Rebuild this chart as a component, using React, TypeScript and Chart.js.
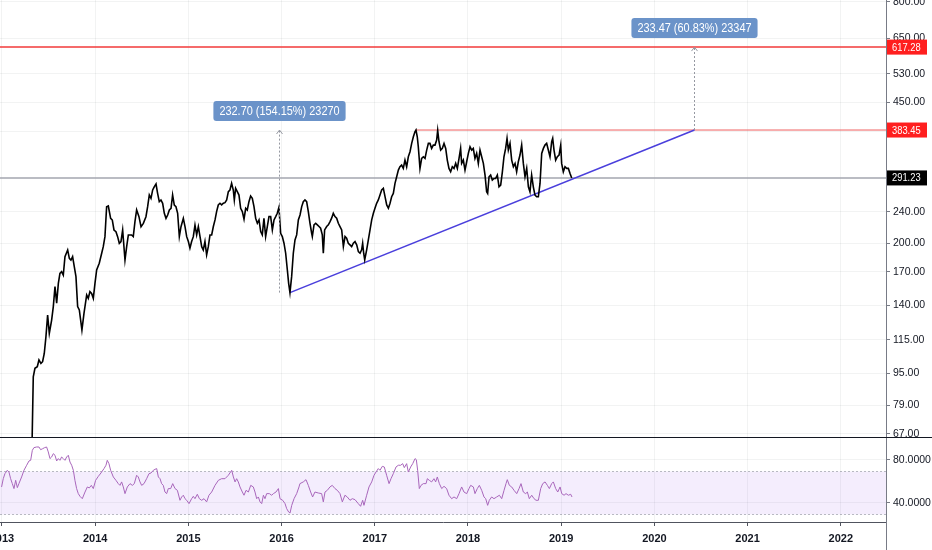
import { useEffect, useRef } from "react";
import { Chart, registerables } from "chart.js";

Chart.register(...registerables);

// weekly closes (decimal years)
const priceYears = [
  2012.96, 2013.04, 2013.11, 2013.18, 2013.25, 2013.318,
  2013.336, 2013.354, 2013.379, 2013.397, 2013.418, 2013.436, 2013.454, 2013.472, 2013.49, 2013.508,
  2013.533, 2013.551, 2013.569, 2013.587, 2013.605, 2013.622, 2013.64, 2013.658, 2013.676, 2013.705,
  2013.723, 2013.74, 2013.758, 2013.776, 2013.794, 2013.812, 2013.83, 2013.858, 2013.88, 2013.909,
  2013.926, 2013.944, 2013.962, 2013.98, 2013.998, 2014.016, 2014.044, 2014.07, 2014.087, 2014.105,
  2014.123, 2014.141, 2014.166, 2014.184, 2014.202, 2014.223, 2014.241, 2014.259, 2014.277, 2014.295,
  2014.32, 2014.338, 2014.356, 2014.391, 2014.409, 2014.427, 2014.445, 2014.47, 2014.492, 2014.517,
  2014.545, 2014.563, 2014.581, 2014.599, 2014.617, 2014.635, 2014.653, 2014.67, 2014.688, 2014.706,
  2014.724, 2014.742, 2014.76, 2014.778, 2014.796, 2014.814, 2014.831, 2014.849, 2014.867, 2014.885,
  2014.903, 2014.921, 2014.946, 2014.964, 2014.982, 2015.0, 2015.017, 2015.035, 2015.053, 2015.071,
  2015.089, 2015.107, 2015.125, 2015.143, 2015.16, 2015.178, 2015.196, 2015.214, 2015.232,
  2015.25, 2015.268, 2015.286, 2015.303, 2015.321, 2015.339, 2015.357, 2015.375, 2015.393, 2015.411,
  2015.429, 2015.446, 2015.464, 2015.482, 2015.493, 2015.507, 2015.525, 2015.543, 2015.561, 2015.579,
  2015.597, 2015.615, 2015.632, 2015.65, 2015.668, 2015.686, 2015.704, 2015.722, 2015.74, 2015.758,
  2015.776, 2015.793, 2015.811, 2015.829, 2015.847, 2015.865, 2015.883, 2015.901, 2015.919, 2015.937,
  2015.954, 2015.972, 2015.99, 2016.008, 2016.026, 2016.044, 2016.062, 2016.076, 2016.09, 2016.108,
  2016.126, 2016.144, 2016.162, 2016.18, 2016.198, 2016.216, 2016.233, 2016.251, 2016.269, 2016.287,
  2016.305, 2016.323, 2016.33, 2016.348, 2016.366, 2016.384, 2016.402, 2016.419, 2016.437, 2016.448,
  2016.462, 2016.484, 2016.502, 2016.52, 2016.537, 2016.555, 2016.573, 2016.591, 2016.609, 2016.627,
  2016.645, 2016.663, 2016.681, 2016.698, 2016.716, 2016.734, 2016.752, 2016.77, 2016.788, 2016.806,
  2016.824, 2016.842, 2016.859, 2016.87, 2016.881, 2016.892, 2016.913, 2016.931, 2016.949, 2016.967,
  2016.985, 2017.002, 2017.02, 2017.038, 2017.056, 2017.074, 2017.092, 2017.11, 2017.128, 2017.146,
  2017.163, 2017.181, 2017.199, 2017.217, 2017.235, 2017.253, 2017.27, 2017.288, 2017.306, 2017.324,
  2017.342, 2017.36, 2017.378, 2017.396, 2017.414, 2017.431, 2017.442, 2017.456, 2017.467, 2017.485,
  2017.503, 2017.521, 2017.539, 2017.557, 2017.575, 2017.592, 2017.61, 2017.628, 2017.646, 2017.664,
  2017.675, 2017.689, 2017.707, 2017.725, 2017.743, 2017.761, 2017.778, 2017.796, 2017.814, 2017.832,
  2017.85, 2017.868, 2017.886, 2017.904, 2017.921, 2017.932, 2017.95, 2017.968, 2017.986, 2018.004,
  2018.022, 2018.04, 2018.057, 2018.075, 2018.093, 2018.111, 2018.129, 2018.147, 2018.165, 2018.183,
  2018.2, 2018.211, 2018.226, 2018.243, 2018.261, 2018.279, 2018.297, 2018.315, 2018.333, 2018.351,
  2018.369, 2018.386, 2018.404, 2018.419, 2018.433, 2018.451, 2018.469, 2018.487, 2018.505, 2018.522,
  2018.54, 2018.558, 2018.576, 2018.594, 2018.612, 2018.63, 2018.648, 2018.665, 2018.683, 2018.701,
  2018.719, 2018.737, 2018.755, 2018.773, 2018.791, 2018.809, 2018.826, 2018.844, 2018.862, 2018.88,
  2018.898, 2018.909, 2018.923, 2018.941, 2018.959, 2018.977, 2018.995, 2019.005, 2019.023, 2019.041,
  2019.059, 2019.077, 2019.095, 2019.113,
];
const priceValues = [
  42, 47, 44, 49, 46, 55,
  93.0, 97.6, 98.5, 102.4, 100.4, 101.4, 106.3, 117.1, 132.6, 119.3,
  128.8, 139.1, 156.0, 141.8, 159.0, 168.4, 170.1, 166.8, 185.4, 192.6,
  183.6, 181.8, 185.4, 175.0, 165.2, 139.1, 136.5, 121.6, 133.8, 148.7,
  145.9, 151.6, 150.1, 145.9, 159.0, 171.7, 178.4, 189.0, 196.3, 207.9,
  246.9, 247.9, 230.9, 228.7, 216.0, 213.9, 207.9, 200.1, 202.1, 216.0,
  181.8, 196.3, 209.9, 209.9, 207.9, 226.5, 242.3, 233.1, 220.1, 224.4,
  233.1, 246.9, 264.1, 259.1, 271.8, 277.0, 281.2, 266.6, 254.2, 256.6,
  251.7, 237.7, 230.9, 235.4, 242.3, 244.6, 264.1, 249.3, 246.9, 237.7,
  207.9, 220.1, 230.9, 220.1, 207.9, 202.1, 194.5, 202.1, 207.9, 222.2,
  209.9, 220.1, 207.9, 196.3, 192.6, 202.1, 187.2, 196.3, 209.9,
  210.0, 220.3, 228.9, 240.1, 249.4, 251.8, 249.4, 251.8, 252.7, 256.6,
  269.1, 271.7, 282.4, 271.7, 256.6, 274.3, 269.1, 264.0, 244.7, 240.1,
  229.8, 244.7, 242.3, 254.1, 262.5, 259.0, 247.0, 231.1, 224.5, 228.9,
  214.1, 210.0, 231.1, 208.0, 220.3, 233.3, 233.3, 216.1, 228.9, 233.3,
  237.8, 246.1, 212.0, 208.0, 200.2, 189.0, 171.7, 159.0, 150.75, 165.2,
  189.0, 204.0, 210.0, 228.9, 235.5, 247.0, 254.1, 256.6, 254.1, 240.1,
  224.5, 212.0, 208.0, 222.4, 224.5, 222.4, 220.3, 218.2, 210.0, 189.0,
  216.1, 220.3, 222.4, 226.7, 231.1, 237.8, 233.3, 231.1, 224.5, 220.3,
  216.1, 196.4, 208.0, 206.0, 200.2, 198.3, 196.4, 200.2, 202.1, 198.3,
  190.8, 189.0, 192.7, 200.2, 189.0, 181.9, 192.7, 204.0, 216.1, 228.9,
  237.8, 244.7, 251.8, 256.6, 264.0, 271.7, 274.3, 261.5, 249.4, 244.7,
  251.6, 261.4, 266.4, 282.2, 293.2, 304.6, 310.5, 313.5, 307.6, 322.6,
  310.5, 328.9, 338.5, 355.1, 368.9, 379.7, 383.45, 368.9, 348.4, 307.6,
  325.8, 328.9, 325.8, 341.8, 355.1, 355.1, 345.1, 351.7, 351.7, 362.0,
  382.9, 358.5, 341.8, 345.1, 355.1, 345.1, 322.6, 307.6, 301.7, 310.5,
  307.6, 316.6, 307.6, 325.8, 345.1, 316.6, 322.6, 304.6, 319.6, 335.3,
  348.4, 341.8, 345.1, 325.8, 335.3, 316.6, 341.8, 328.9, 316.6, 296.0,
  269.0, 266.4, 293.2, 296.0, 287.6, 290.4, 290.4, 296.0, 276.8, 279.5,
  301.7, 328.9, 345.1, 365.4, 341.8, 355.1, 322.6, 310.5, 316.6, 301.7,
  319.6, 332.1, 351.7, 316.6, 293.2, 307.6, 276.8, 269.0, 296.0, 276.8,
  263.9, 261.4, 261.4, 282.2, 335.3, 345.1, 351.7, 355.1, 341.8, 328.9,
  358.5, 365.4, 341.8, 322.6, 328.9, 332.1, 351.7, 316.6, 301.7, 310.5,
  307.6, 307.6, 298.9, 291.23,
];

const rsiYears = [
  2012.996, 2013.014, 2013.032, 2013.057, 2013.075, 2013.093, 2013.111, 2013.129, 2013.147, 2013.165,
  2013.182, 2013.211, 2013.236, 2013.265, 2013.29, 2013.308, 2013.326, 2013.343, 2013.372, 2013.397,
  2013.415, 2013.436, 2013.458, 2013.479, 2013.497, 2013.515, 2013.533, 2013.551, 2013.569, 2013.587,
  2013.605, 2013.622, 2013.64, 2013.658, 2013.676, 2013.694, 2013.712, 2013.73, 2013.748, 2013.766,
  2013.783, 2013.801, 2013.819, 2013.837, 2013.862, 2013.891, 2013.916, 2013.937, 2013.959, 2013.98,
  2014.005, 2014.034, 2014.062, 2014.095, 2014.116, 2014.13, 2014.148, 2014.166, 2014.195, 2014.223,
  2014.248, 2014.266, 2014.284, 2014.302, 2014.32, 2014.345, 2014.374, 2014.399, 2014.42, 2014.445,
  2014.463, 2014.481, 2014.499, 2014.524, 2014.552, 2014.578, 2014.599, 2014.624, 2014.642, 2014.66,
  2014.678, 2014.696, 2014.713, 2014.731, 2014.749, 2014.767, 2014.785, 2014.81, 2014.832, 2014.857,
  2014.882, 2014.91, 2014.928, 2014.946, 2014.964, 2014.982, 2015.007, 2015.035, 2015.053, 2015.071,
  2015.096, 2015.118, 2015.143, 2015.168, 2015.196, 2015.221, 2015.25, 2015.286, 2015.322, 2015.357,
  2015.393, 2015.429, 2015.465, 2015.483, 2015.501, 2015.518, 2015.536, 2015.554, 2015.579, 2015.597,
  2015.619, 2015.644, 2015.669, 2015.697, 2015.715, 2015.733, 2015.751, 2015.769, 2015.787, 2015.805,
  2015.822, 2015.84, 2015.869, 2015.894, 2015.912, 2015.94, 2015.966, 2015.983, 2016.012, 2016.037,
  2016.055, 2016.076, 2016.091, 2016.109, 2016.134, 2016.162, 2016.187,
  2016.197, 2016.233, 2016.262, 2016.287, 2016.312, 2016.333, 2016.358, 2016.394, 2016.43, 2016.448,
  2016.466, 2016.491, 2016.519, 2016.544, 2016.573, 2016.598, 2016.627, 2016.652, 2016.68, 2016.705,
  2016.734, 2016.759, 2016.788, 2016.823, 2016.848, 2016.87, 2016.884, 2016.913, 2016.938, 2016.967,
  2016.992, 2017.013, 2017.038, 2017.056, 2017.081, 2017.102, 2017.127, 2017.153, 2017.174, 2017.199,
  2017.228, 2017.253, 2017.278, 2017.299, 2017.317, 2017.342, 2017.36, 2017.385, 2017.407, 2017.432,
  2017.446, 2017.46, 2017.478, 2017.496, 2017.521, 2017.55, 2017.564, 2017.585, 2017.61, 2017.635,
  2017.653, 2017.671, 2017.693, 2017.718, 2017.743, 2017.771, 2017.796, 2017.825, 2017.85, 2017.879,
  2017.904, 2017.932, 2017.957, 2017.986, 2018.011, 2018.029, 2018.058, 2018.075, 2018.1, 2018.122,
  2018.147, 2018.172, 2018.19, 2018.211, 2018.229, 2018.254, 2018.279, 2018.308, 2018.337, 2018.362,
  2018.387, 2018.408, 2018.422, 2018.444, 2018.469, 2018.494, 2018.523, 2018.548, 2018.569, 2018.594,
  2018.619, 2018.637, 2018.658, 2018.684, 2018.709, 2018.73, 2018.755, 2018.78, 2018.802, 2018.827,
  2018.852, 2018.873, 2018.898, 2018.916, 2018.941, 2018.963, 2018.988, 2019.006, 2019.031, 2019.052,
  2019.077, 2019.102, 2019.116,
];
const rsiValues = [
  54.9, 62.6, 67.3, 70.4, 68.8, 62.6, 58.0, 53.4, 61.1, 54.3,
  58.0, 64.2, 70.4, 75.1, 79.1, 79.7, 89.0, 91.5, 92.1, 92.1,
  89.6, 90.5, 91.5, 92.1, 87.5, 81.3, 82.8, 85.9, 84.4, 79.1,
  81.3, 79.7, 82.8, 81.3, 79.7, 82.8, 84.4, 78.1, 75.1, 70.4,
  61.1, 53.4, 48.7, 46.2, 44.0, 50.2, 54.9, 54.0, 56.4, 53.4,
  61.1, 64.8, 67.9, 72.0, 75.1, 79.7, 76.6, 70.4, 64.2, 61.1,
  58.0, 56.4, 59.6, 54.9, 48.7, 54.9, 58.0, 56.4, 58.0, 65.8,
  64.2, 59.6, 56.4, 58.0, 62.6, 67.3, 67.9, 70.4, 71.3, 72.0,
  64.2, 62.6, 58.0, 56.4, 50.2, 48.7, 53.4, 53.4, 58.0, 53.4,
  51.8, 42.5, 45.6, 47.2, 44.0, 42.5, 39.4, 44.0, 46.2, 44.0,
  48.1, 44.0, 42.5, 44.0, 41.0, 47.2, 50.2, 56.4, 61.1, 62.6,
  62.6, 65.8, 70.4, 64.2, 59.6, 62.6, 59.6, 54.9, 50.2, 47.2,
  51.8, 50.2, 56.4, 54.9, 50.2, 44.0, 45.6, 41.0, 39.4, 47.2,
  44.0, 48.7, 48.7, 47.2, 48.7, 50.2, 53.4, 44.0, 42.5, 39.4,
  34.7, 31.6, 30.7, 37.8, 44.0, 48.7, 54.9,
  58.0, 59.6, 61.7, 56.4, 50.2, 45.6, 50.2, 49.3, 48.7, 41.0,
  50.2, 51.8, 54.9, 56.4, 53.4, 51.8, 48.7, 41.0, 47.2, 45.6,
  42.5, 44.0, 43.1, 39.4, 36.9, 42.5, 37.8, 47.2, 54.9, 59.6,
  65.8, 68.8, 72.0, 70.4, 74.1, 73.5, 65.8, 58.0, 62.6, 67.3,
  73.5, 75.1, 75.1, 76.6, 72.9, 76.6, 68.8, 73.5, 76.6, 81.3,
  80.3, 70.4, 53.4, 56.4, 58.0, 58.0, 62.6, 61.1, 59.6, 62.6,
  59.6, 64.2, 58.0, 53.4, 55.5, 53.4, 47.2, 44.0, 45.6, 44.0,
  48.7, 54.9, 50.2, 48.7, 53.4, 56.4, 54.9, 48.7, 53.4, 56.4,
  51.8, 45.6, 44.0, 37.8, 42.5, 45.6, 44.0, 45.6, 47.2, 44.0,
  51.8, 58.0, 61.7, 56.4, 54.9, 51.8, 48.7, 53.4, 58.0, 50.2,
  48.7, 50.2, 44.0, 47.2, 44.0, 42.5, 42.5, 53.4, 58.0, 59.6,
  56.4, 53.4, 58.0, 59.6, 53.4, 50.2, 54.9, 48.7, 47.2, 48.7,
  47.2, 48.1, 45.6,
];

const yearTicks = [2013, 2014, 2015, 2016, 2017, 2018, 2019, 2020, 2021, 2022];
const priceTicks = [67, 79, 95, 115, 140, 170, 200, 240, 380, 450, 530, 650, 800];
const hiddenPriceTicks = [380];
const rsiTicks = [40, 80];
const rsiBand = [30, 70];

const lastPrice = 291.23;
const resistance = 383.45;
const target = 617.28;
const resistanceStart = 2017.442;
const trendYears = [2016.09, 2020.43];
const trendValues = [150.75, 383.45];

const measureYears = [2015.975, 2020.42];
const measureFrom = [150.75, 383.45];
const measureTo = [383.45, 617.28];
const measureTexts = ["232.70 (154.15%) 23270", "233.47 (60.83%) 23347"];

const FONT = "'Liberation Sans Narrow', 'Liberation Sans', Arial, sans-serif";

// text drawn a little narrower, like the squeezed labels of the picture
const narrowText = (ctx: any, text: string, x: number, y: number, squeeze: number) => {
  ctx.save();
  ctx.translate(x, y);
  ctx.scale(squeeze, 1);
  ctx.fillText(text, 0, 0);
  ctx.restore();
};

const overlayPlugin = {
  id: "overlay",
  beforeDatasetsDraw(chart: any) {
    const { ctx, chartArea } = chart;
    const r = chart.scales.rsi;
    const top = Math.round(r.getPixelForValue(rsiBand[1])) + 0.5;
    const bottom = Math.round(r.getPixelForValue(rsiBand[0])) + 0.5;
    ctx.save();
    ctx.fillStyle = "rgba(149, 76, 233, 0.1)";
    ctx.fillRect(chartArea.left, top, chartArea.right - chartArea.left, bottom - top);
    ctx.strokeStyle = "rgba(120, 123, 134, 0.5)";
    ctx.lineWidth = 1;
    ctx.setLineDash([2, 2]);
    [top, bottom].forEach((yy) => {
      ctx.beginPath();
      ctx.moveTo(chartArea.left, yy);
      ctx.lineTo(chartArea.right, yy);
      ctx.stroke();
    });
    ctx.restore();
  },
  afterDraw(chart: any) {
    const { ctx, chartArea } = chart;
    const x = chart.scales.x;
    const y = chart.scales.y;
    const r = chart.scales.rsi;
    ctx.save();

    // pane separator and axis line running to the bottom
    ctx.strokeStyle = "#131722";
    ctx.lineWidth = 1;
    ctx.beginPath();
    ctx.moveTo(0, Math.round(r.top) + 0.5);
    ctx.lineTo(chart.width, Math.round(r.top) + 0.5);
    ctx.stroke();
    ctx.strokeStyle = "#787b86";
    ctx.beginPath();
    ctx.moveTo(Math.round(chartArea.right) + 0.5, chartArea.bottom);
    ctx.lineTo(Math.round(chartArea.right) + 0.5, chart.height);
    ctx.stroke();

    // price labels on the axis
    const levels: [number, string][] = [
      [target, "#ff1f1f"],
      [resistance, "#ff1f1f"],
      [lastPrice, "#000000"],
    ];
    ctx.font = "11px " + FONT;
    ctx.textBaseline = "middle";
    ctx.textAlign = "left";
    levels.forEach(([v, c]) => {
      const py = y.getPixelForValue(v);
      ctx.fillStyle = c;
      ctx.fillRect(chartArea.right + 1, py - 7.5, 40, 15);
      ctx.fillStyle = "#ffffff";
      narrowText(ctx, v.toFixed(2), chartArea.right + 6, py + 0.5, 0.85);
    });

    // measure arrows with their boxes
    measureYears.forEach((yr, i) => {
      const mx = Math.round(x.getPixelForValue(yr)) + 0.5;
      const y1 = y.getPixelForValue(measureFrom[i]);
      const y2 = y.getPixelForValue(measureTo[i]);
      ctx.strokeStyle = "#9598a1";
      ctx.lineWidth = 1;
      ctx.setLineDash([2, 2]);
      ctx.beginPath();
      ctx.moveTo(mx, y1);
      ctx.lineTo(mx, y2);
      ctx.stroke();
      ctx.setLineDash([]);
      ctx.beginPath();
      ctx.moveTo(mx - 3, y2 + 4);
      ctx.lineTo(mx, y2);
      ctx.lineTo(mx + 3, y2 + 4);
      ctx.stroke();

      ctx.font = "13px " + FONT;
      const squeeze = 0.84;
      const w = ctx.measureText(measureTexts[i]).width * squeeze + 12;
      const bh = 20;
      const by = y2 - 9 - bh;
      ctx.fillStyle = "#6b93c9";
      ctx.beginPath();
      ctx.roundRect(mx - w / 2, by, w, bh, 3);
      ctx.fill();
      ctx.fillStyle = "#ffffff";
      ctx.textAlign = "center";
      narrowText(ctx, measureTexts[i], mx, by + bh / 2 + 0.5, squeeze);
    });
    ctx.restore();
  },
};

const App = () => {
  const canvasRef = useRef<HTMLCanvasElement>(null);

  useEffect(() => {
    if (!canvasRef.current) return;
    Chart.defaults.font.family = FONT;

    const price = priceYears.map((yr, i) => ({ x: yr, y: priceValues[i] }));
    const rsi = rsiYears.map((yr, i) => ({ x: yr, y: rsiValues[i] }));
    const flat = (v: number, from: number) => [
      { x: from, y: v },
      { x: 2023, y: v },
    ];

    const chart = new Chart(canvasRef.current, {
      type: "line",
      data: {
        datasets: [
          { data: price, yAxisID: "y", borderColor: "#000000", borderWidth: 1.6 },
          {
            data: trendYears.map((yr, i) => ({ x: yr, y: trendValues[i] })),
            yAxisID: "y",
            borderColor: "#4a3fdc",
            borderWidth: 1.6,
          },
          { data: flat(resistance, resistanceStart), yAxisID: "y", borderColor: "#ef6060", borderWidth: 1 },
          { data: flat(target, 2012), yAxisID: "y", borderColor: "#f23a3a", borderWidth: 1.5 },
          { data: flat(lastPrice, 2012), yAxisID: "y", borderColor: "#a3a6af", borderWidth: 1.5 },
          { data: rsi, yAxisID: "rsi", borderColor: "#a866bb", borderWidth: 1 },
        ],
      },
      options: {
        responsive: false,
        animation: false,
        layout: { padding: 0 },
        elements: { point: { radius: 0 }, line: { tension: 0 } },
        plugins: { legend: { display: false }, tooltip: { enabled: false } },
        scales: {
          x: {
            type: "linear",
            position: "bottom",
            min: 2012.979,
            max: 2022.485,
            afterBuildTicks: (s: any) => {
              s.ticks = yearTicks.map((v) => ({ value: v }));
            },
            afterFit: (s: any) => {
              s.height = 28;
              s.paddingLeft = 0;
              s.paddingRight = 0;
            },
            grid: { color: "rgba(42, 46, 57, 0.06)", tickColor: "#50535e", tickLength: 4 },
            border: { color: "#50535e" },
            ticks: {
              color: "#131722",
              font: { size: 11, weight: "bold" },
              padding: 6,
              maxRotation: 0,
              autoSkip: false,
              callback: (v: any) => String(v),
            },
          },
          y: {
            type: "logarithmic",
            position: "right",
            stack: "panes",
            stackWeight: 437,
            min: 65.8,
            max: 809,
            afterBuildTicks: (s: any) => {
              s.ticks = priceTicks.map((v) => ({ value: v }));
            },
            afterFit: (s: any) => {
              s.width = 46;
              s.paddingTop = 0;
              s.paddingBottom = 0;
            },
            grid: { color: "rgba(42, 46, 57, 0.06)", tickColor: "#787b86", tickLength: 4 },
            border: { color: "#787b86" },
            ticks: {
              color: "#131722",
              font: { size: 10.5 },
              padding: 3,
              autoSkip: false,
              callback: (v: any) => (hiddenPriceTicks.includes(v) ? "" : Number(v).toFixed(2)),
            },
          },
          rsi: {
            type: "linear",
            position: "right",
            stack: "panes",
            stackWeight: 85,
            min: 22.3,
            max: 101.4,
            afterBuildTicks: (s: any) => {
              s.ticks = rsiTicks.map((v) => ({ value: v }));
            },
            afterFit: (s: any) => {
              s.width = 46;
              s.paddingTop = 0;
              s.paddingBottom = 0;
            },
            grid: { color: "rgba(42, 46, 57, 0.06)", tickColor: "#787b86", tickLength: 4 },
            border: { color: "#787b86" },
            ticks: {
              color: "#131722",
              font: { size: 10.5 },
              padding: 3,
              autoSkip: false,
              callback: (v: any) => Number(v).toFixed(4),
            },
          },
        },
      },
      plugins: [overlayPlugin],
    } as any);

    return () => {
      chart.destroy();
    };
  }, []);

  return (
    <div style={{ position: "fixed", left: 0, top: 0, width: 932, height: 550, background: "#ffffff" }}>
      <canvas ref={canvasRef} width={932} height={550} style={{ width: 932, height: 550, display: "block" }} />
    </div>
  );
};

export default App;
